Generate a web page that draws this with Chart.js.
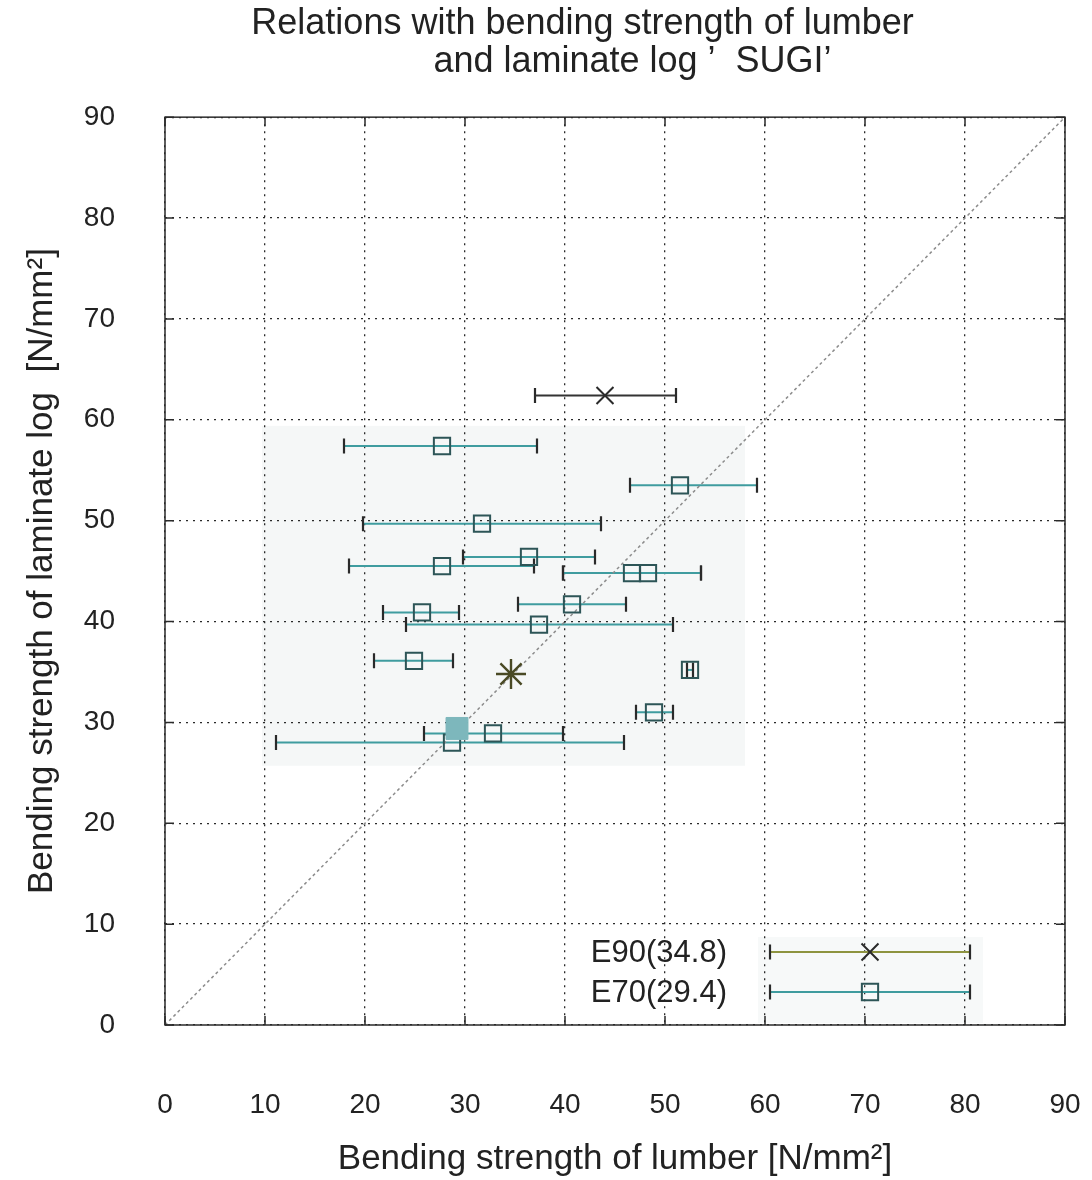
<!DOCTYPE html>
<html>
<head>
<meta charset="utf-8">
<script src="https://cdn.jsdelivr.net/npm/chart.js@4.4.0/dist/chart.umd.min.js"></script>
<style>
  html, body { margin: 0; padding: 0; background: #fff; }
</style>
</head>
<body>
<canvas id="chart" width="1092" height="1180"></canvas>
<script>
// E70 lumber (x) vs laminate log (y), with the min/max of lumber strength
const E70_X    = [27.7, 51.5, 31.7, 36.4, 27.7, 46.7, 48.3, 40.7, 25.7, 37.4, 24.9, 52.5, 48.9, 32.8, 28.7];
const E70_Y    = [57.4, 53.5, 49.7, 46.4, 45.5, 44.8, 44.8, 41.7, 40.9, 39.7, 36.1, 35.2, 31.0, 28.9, 28.0];
const E70_XMIN = [17.9, 46.5, 19.8, 29.8, 18.4, 39.8, 39.8, 35.3, 21.8, 24.1, 20.9, 52.2, 47.1, 25.9, 11.1];
const E70_XMAX = [37.2, 59.2, 43.6, 43.0, 36.9, 53.6, 53.6, 46.1, 29.4, 50.8, 28.8, 52.8, 50.8, 39.8, 45.9];

const E90_X    = [44.0];
const E90_Y    = [62.4];
const E90_XMIN = [37.0];
const E90_XMAX = [51.1];

// group means (shown in legend)
const E70_MEAN = [29.2, 29.4];
const E90_MEAN = [34.6, 34.8];

const DIAG = [0, 90];
const SHADE_X = [9.7, 58.0];
const SHADE_Y = [25.7, 59.4];

const LEGEND_LABELS = ["E90(34.8)", "E70(29.4)"];

const DARK = "#2a2a2a";
const TEAL = "#3f9c9f";
const SQUARE = "#2d5557";
const OLIVE = "#8e9440";
const FONT = "'Liberation Sans', Arial, sans-serif";

const toPoints = (xs, ys) => xs.map((x, i) => ({ x, y: ys[i] }));

const shadePlugin = {
  id: 'shade',
  beforeDraw(chart) {
    const { ctx, scales: { x, y }, chartArea: a } = chart;
    ctx.save();
    ctx.fillStyle = "#f5f7f7";
    const x0 = x.getPixelForValue(SHADE_X[0]), x1 = x.getPixelForValue(SHADE_X[1]);
    const y0 = y.getPixelForValue(SHADE_Y[1]), y1 = y.getPixelForValue(SHADE_Y[0]);
    ctx.fillRect(x0, y0, x1 - x0, y1 - y0);
    // faint legend box
    ctx.fillStyle = "#f7f9f9";
    ctx.fillRect(a.right - 307, a.bottom - 88, 225, 86);
    ctx.restore();
  }
};

function drawErrorBar(ctx, x0, x1, yp, lineColor) {
  ctx.strokeStyle = lineColor;
  ctx.lineWidth = 2;
  ctx.beginPath();
  ctx.moveTo(x0, yp);
  ctx.lineTo(x1, yp);
  ctx.stroke();
  ctx.strokeStyle = DARK;
  ctx.lineWidth = 2.2;
  ctx.beginPath();
  ctx.moveTo(x0, yp - 7.5); ctx.lineTo(x0, yp + 7.5);
  ctx.moveTo(x1, yp - 7.5); ctx.lineTo(x1, yp + 7.5);
  ctx.stroke();
}

const errorBarPlugin = {
  id: 'errorBars',
  beforeDatasetsDraw(chart) {
    const { ctx, scales: { x, y } } = chart;
    ctx.save();
    chart.data.datasets.forEach(ds => {
      if (!ds.xMin) return;
      ds.data.forEach((p, i) => {
        drawErrorBar(ctx, x.getPixelForValue(ds.xMin[i]), x.getPixelForValue(ds.xMax[i]),
          y.getPixelForValue(p.y), ds.barColor);
      });
    });
    ctx.restore();
  }
};

const framePlugin = {
  id: 'frame',
  afterDraw(chart) {
    const { ctx, chartArea: a, scales: { x, y } } = chart;
    ctx.save();
    ctx.strokeStyle = DARK;
    ctx.lineWidth = 1.5;
    ctx.strokeRect(a.left, a.top, a.right - a.left, a.bottom - a.top);
    // inward ticks on all sides
    ctx.beginPath();
    x.ticks.forEach(t => {
      const px = x.getPixelForValue(t.value);
      ctx.moveTo(px, a.bottom); ctx.lineTo(px, a.bottom - 9);
      ctx.moveTo(px, a.top); ctx.lineTo(px, a.top + 9);
    });
    y.ticks.forEach(t => {
      const py = y.getPixelForValue(t.value);
      ctx.moveTo(a.left, py); ctx.lineTo(a.left + 9, py);
      ctx.moveTo(a.right, py); ctx.lineTo(a.right - 9, py);
    });
    ctx.stroke();

    // legend
    const rows = [
      { label: LEGEND_LABELS[0], color: OLIVE, style: 'crossRot' },
      { label: LEGEND_LABELS[1], color: TEAL, style: 'rect' }
    ];
    ctx.font = "31px " + FONT;
    ctx.textAlign = 'right';
    ctx.textBaseline = 'middle';
    rows.forEach((r, i) => {
      const yp = a.bottom - 73 + i * 40;
      const x0 = a.right - 295, x1 = a.right - 95;
      ctx.fillStyle = "#222";
      ctx.fillText(r.label, a.right - 338, yp + 1);
      drawErrorBar(ctx, x0, x1, yp, r.color);
      ctx.fillStyle = "rgba(0,0,0,0)";
      ctx.strokeStyle = r.style === 'rect' ? SQUARE : DARK;
      ctx.lineWidth = 2;
      Chart.helpers.drawPoint(ctx, { pointStyle: r.style, radius: r.style === 'rect' ? 11.5 : 12, rotation: 0, borderWidth: 2 }, (x0 + x1) / 2, yp);
    });
    ctx.restore();
  }
};

const axisTitleFont = { family: FONT, size: 35 };
const tickFont = { family: FONT, size: 28 };

new Chart(document.getElementById('chart').getContext('2d'), {
  type: 'scatter',
  data: {
    datasets: [
      {
        label: 'E90',
        data: toPoints(E90_X, E90_Y),
        xMin: E90_XMIN, xMax: E90_XMAX, barColor: "#333",
        pointStyle: 'crossRot', pointRadius: 12, borderColor: DARK, borderWidth: 2,
        order: 1
      },
      {
        label: 'E70',
        data: toPoints(E70_X, E70_Y),
        xMin: E70_XMIN, xMax: E70_XMAX, barColor: TEAL,
        pointStyle: 'rect', pointRadius: 11.5, borderColor: SQUARE, borderWidth: 2,
        backgroundColor: 'rgba(0,0,0,0)',
        order: 1
      },
      {
        label: 'E70 mean',
        data: [{ x: E70_MEAN[0], y: E70_MEAN[1] }],
        pointStyle: 'rect', pointRadius: 15.5, backgroundColor: "#7db7bc", borderColor: "#7db7bc", borderWidth: 1,
        order: 0
      },
      {
        label: 'E90 mean',
        data: [{ x: E90_MEAN[0], y: E90_MEAN[1] }],
        pointStyle: 'star', pointRadius: 15, borderColor: "#4a4a25", borderWidth: 2.4,
        order: 0
      },
      {
        label: '1:1',
        data: [{ x: DIAG[0], y: DIAG[0] }, { x: DIAG[1], y: DIAG[1] }],
        showLine: true, pointRadius: 0, borderColor: "#8c8c8c", borderWidth: 1.5,
        borderDash: [3, 3], order: 2
      }
    ]
  },
  options: {
    responsive: false,
    animation: false,
    events: [],
    layout: { padding: { left: 0, right: 27, top: 0, bottom: 0 } },
    plugins: {
      legend: { display: false },
      tooltip: { enabled: false },
      title: {
        display: true,
        text: ["          Relations with bending strength of lumber",
               "                    and laminate log \u2019  SUGI\u2019"],
        color: "#222",
        font: { family: FONT, size: 36, weight: 'normal', lineHeight: 1.03 },
        padding: { top: 6, bottom: 37 }
      }
    },
    scales: {
      x: {
        type: 'linear', min: 0, max: 90,
        ticks: { stepSize: 10, color: "#222", font: tickFont, padding: 4 },
        grid: { color: DARK, lineWidth: 1.3, borderDash: [2, 5], drawTicks: true, tickLength: 59, tickColor: 'rgba(0,0,0,0)' },
        border: { display: false, dash: [2, 5] },
        title: { display: true, text: 'Bending strength of lumber [N/mm\u00b2]', color: "#222", font: axisTitleFont, padding: { top: 0, bottom: 0 } },
        afterFit(scale) { scale.height = 155; }
      },
      y: {
        type: 'linear', min: 0, max: 90,
        ticks: { stepSize: 10, color: "#222", font: tickFont, padding: 50 },
        grid: { color: DARK, lineWidth: 1.3, borderDash: [2, 5], drawTicks: false },
        border: { display: false, dash: [2, 5] },
        title: { display: true, text: 'Bending strength of laminate log  [N/mm\u00b2]', color: "#222", font: axisTitleFont, padding: { top: 21, bottom: 0 } },
        afterFit(scale) { scale.width = 165; }
      }
    }
  },
  plugins: [shadePlugin, errorBarPlugin, framePlugin]
});
</script>
</body>
</html>
